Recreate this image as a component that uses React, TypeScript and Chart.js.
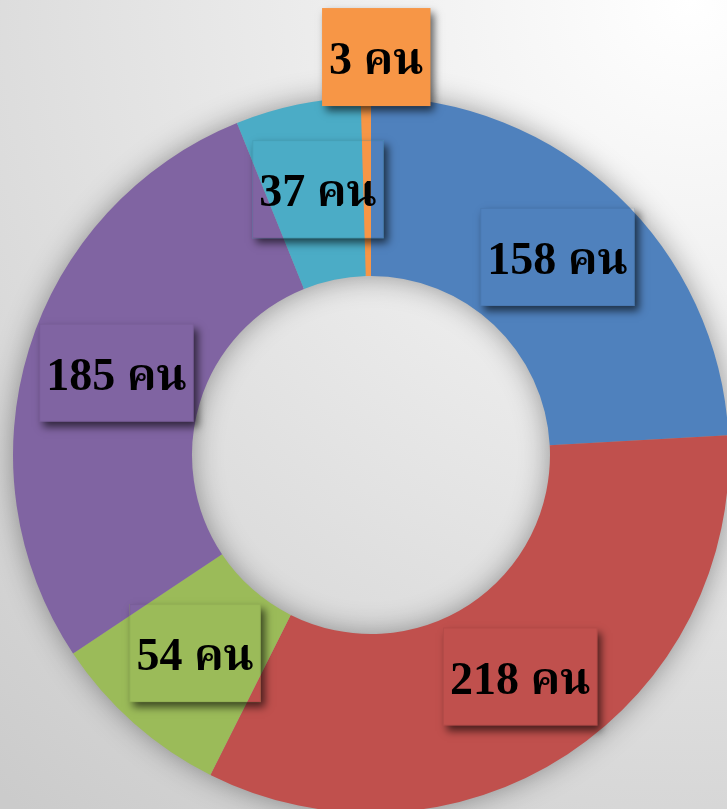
import React, { useEffect, useRef } from 'react';
import { Chart, registerables } from 'chart.js';

Chart.register(...registerables);

// ---- data ----
const categories = ['กลุ่มที่ 1', 'กลุ่มที่ 2', 'กลุ่มที่ 3', 'กลุ่มที่ 4', 'กลุ่มที่ 5', 'กลุ่มที่ 6'];
const values = [158, 218, 54, 185, 37, 3];
const unit = 'คน';
const colors = ['#4F81BD', '#C0504D', '#9BBB59', '#8064A2', '#4BACC6', '#F79646'];
const labelOutside = [false, false, false, false, false, true];

const CANVAS_W = 760;
const CANVAS_H = 830;
const NUM_FONT = 'bold 46px "Liberation Serif", "Times New Roman", "DejaVu Serif", serif';
const UNIT_FONT = 'bold 45px "Noto Serif Thai", "Norasi", "Liberation Serif", "Times New Roman", serif';

const backgroundPlugin = {
  id: 'bgAndShadow',
  beforeDraw(chart: any) {
    const { ctx, width, height } = chart;
    ctx.save();
    const g = ctx.createRadialGradient(690, 0, 0, 690, 0, 1050);
    g.addColorStop(0, '#ffffff');
    g.addColorStop(1, '#cbcbcb');
    ctx.fillStyle = g;
    ctx.fillRect(0, 0, width, height);
    ctx.restore();
  },
  beforeDatasetsDraw(chart: any) {
    const { ctx } = chart;
    const el = chart.getDatasetMeta(0).data[0];
    if (!el) return;
    const p = el.getProps(['x', 'y', 'innerRadius', 'outerRadius'], true);
    ctx.save();
    ctx.shadowColor = 'rgba(0,0,0,0.42)';
    ctx.shadowBlur = 30;
    ctx.beginPath();
    ctx.arc(p.x, p.y, p.outerRadius - 2, 0, Math.PI * 2);
    ctx.arc(p.x, p.y, p.innerRadius + 2, 0, Math.PI * 2, true);
    ctx.fillStyle = '#999999';
    ctx.fill();
    ctx.restore();
  },
};

const labelPlugin = {
  id: 'boxLabels',
  afterDatasetsDraw(chart: any) {
    const { ctx, width, height } = chart;
    const meta = chart.getDatasetMeta(0);
    ctx.save();
    ctx.textBaseline = 'alphabetic';
    ctx.textAlign = 'left';
    meta.data.forEach((el: any, i: number) => {
      const p = el.getProps(['x', 'y', 'startAngle', 'endAngle', 'innerRadius', 'outerRadius'], true);
      const mid = (p.startAngle + p.endAngle) / 2;
      const outside = labelOutside[i];
      const r = outside ? p.outerRadius + 40 : (p.innerRadius + p.outerRadius) / 2;
      const cx = p.x + Math.cos(mid) * r + (outside ? 11 : 2);
      const cy = p.y + Math.sin(mid) * r - (outside ? 0 : 3);
      const numText = `${values[i]} `;
      ctx.font = NUM_FONT;
      const nw = ctx.measureText(numText).width;
      ctx.font = UNIT_FONT;
      const uw = ctx.measureText(unit).width;
      const tw = nw + uw;
      const bw = tw + 14;
      const bh = 98;
      const bx = cx - bw / 2;
      const by = cy - bh / 2;

      // shadow of the label box
      ctx.save();
      if (!outside) {
        ctx.beginPath();
        ctx.rect(0, 0, width, height);
        ctx.rect(bx, by, bw, bh);
        ctx.clip('evenodd');
      }
      ctx.shadowColor = 'rgba(0,0,0,0.62)';
      ctx.shadowBlur = 8;
      ctx.shadowOffsetX = 4;
      ctx.shadowOffsetY = 5;
      ctx.fillStyle = colors[i];
      ctx.fillRect(bx, by, bw, bh);
      ctx.restore();

      // faint box edge
      if (!outside) {
        ctx.save();
        ctx.strokeStyle = 'rgba(0,0,0,0.06)';
        ctx.lineWidth = 1;
        ctx.strokeRect(bx + 0.5, by + 0.5, bw - 1, bh - 1);
        ctx.restore();
      }

      ctx.fillStyle = '#000000';
      const tx = cx - tw / 2;
      const baseY = cy + 17;
      ctx.font = NUM_FONT;
      ctx.fillText(numText, tx, baseY);
      ctx.font = UNIT_FONT;
      ctx.fillText(unit, tx + nw, baseY);
    });
    ctx.restore();
  },
};

export default function App() {
  const canvasRef = useRef<HTMLCanvasElement | null>(null);

  useEffect(() => {
    const canvas = canvasRef.current;
    if (!canvas) return;
    const chart = new Chart(canvas, {
      type: 'doughnut',
      data: {
        labels: categories,
        datasets: [
          {
            data: values,
            backgroundColor: colors,
            borderWidth: 0,
            hoverOffset: 0,
          },
        ],
      },
      options: {
        responsive: false,
        animation: false,
        cutout: '50%',
        layout: { padding: { left: 13, top: 97, right: CANVAS_W - 13 - 716, bottom: CANVAS_H - 97 - 716 } },
        plugins: {
          legend: { display: false },
          tooltip: { enabled: false },
        },
      },
      plugins: [backgroundPlugin, labelPlugin],
    });
    return () => chart.destroy();
  }, []);

  return (
    <div style={{ position: 'fixed', left: 0, top: 0, width: 727, height: 809, overflow: 'hidden' }}>
      <canvas ref={canvasRef} width={CANVAS_W} height={CANVAS_H} style={{ display: 'block' }} />
    </div>
  );
}
